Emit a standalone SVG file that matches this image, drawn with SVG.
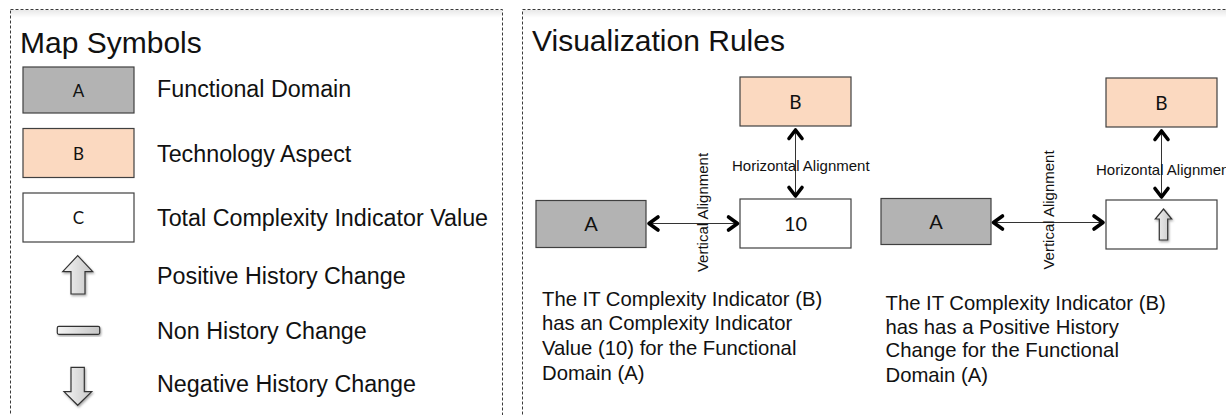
<svg xmlns="http://www.w3.org/2000/svg" width="1226" height="415" viewBox="0 0 1226 415">
  <defs>
    <style>
      .panel { fill: #ffffff; stroke: #3a3a3a; stroke-width: 1; stroke-dasharray: 3 2; }
      .title { font-family: "Liberation Sans", Arial, sans-serif; font-size: 30px; fill: #111; }
      .label { font-family: "Liberation Sans", Arial, sans-serif; font-size: 23.3px; fill: #111; }
      .para { font-family: "Liberation Sans", Arial, sans-serif; font-size: 20.3px; fill: #111; }
      .small { font-family: "Liberation Sans", Arial, sans-serif; font-size: 15px; fill: #111; }
      .boxtxt { font-family: Lato, "Open Sans", sans-serif; fill: #111; text-anchor: middle; }
      .domain { fill: #b3b3b3; stroke: #404040; stroke-width: 1.2; }
      .aspect { fill: #fbd9c0; stroke: #404040; stroke-width: 1.2; }
      .value { fill: #ffffff; stroke: #404040; stroke-width: 1.2; }
      .icon { fill: url(#iconFill); stroke: #333; stroke-width: 1.2; stroke-linejoin: miter; filter: url(#iconShadow); }
      .link { fill: none; stroke: #333; stroke-width: 1; }
      .head { fill: none; stroke: #000; stroke-width: 3.6; stroke-linecap: round; stroke-linejoin: round; }
    </style>
    <linearGradient id="iconFill" x1="0" y1="0" x2="1" y2="0">
      <stop offset="0" stop-color="#f4f4f4"/>
      <stop offset="1" stop-color="#c6c6c6"/>
    </linearGradient>
    <linearGradient id="topHaze" x1="0" y1="0" x2="0" y2="1">
      <stop offset="0" stop-color="#000" stop-opacity="0.09"/>
      <stop offset="1" stop-color="#000" stop-opacity="0"/>
    </linearGradient>
    <filter id="iconShadow" x="-30%" y="-30%" width="160%" height="160%">
      <feDropShadow dx="1" dy="1.5" stdDeviation="1" flood-color="#000" flood-opacity="0.35"/>
    </filter>
  </defs>

  <rect width="1226" height="415" fill="#ffffff"/>

  <!-- legend panel -->
  <g id="panel-map-symbols">
    <rect class="panel" x="10.5" y="9.5" width="492" height="430"/>
    <rect x="11" y="10" width="491" height="8" fill="url(#topHaze)"/>
    <text class="title" x="20" y="52.5">Map Symbols</text>
  </g>

  <g id="legend-functional-domain">
    <rect class="domain" x="23" y="67" width="111" height="46"/>
    <text class="boxtxt" x="78.5" y="97" font-size="17">A</text>
    <text class="label" x="157" y="97">Functional Domain</text>
  </g>

  <g id="legend-technology-aspect">
    <rect class="aspect" x="23" y="128.5" width="111" height="49"/>
    <text class="boxtxt" x="78.5" y="159.5" font-size="17">B</text>
    <text class="label" x="157" y="162">Technology Aspect</text>
  </g>

  <g id="legend-total-value">
    <rect class="value" x="23" y="193" width="111" height="49"/>
    <text class="boxtxt" x="78.5" y="224" font-size="17">C</text>
    <text class="label" x="157" y="226">Total Complexity Indicator Value</text>
  </g>

  <g id="legend-positive-change">
    <path class="icon" d="M77.7,255.7 L92.7,271.7 L85,271.7 L85,294 L71,294 L71,271.7 L62.7,271.7 Z"/>
    <text class="label" x="157" y="284">Positive History Change</text>
  </g>

  <g id="legend-no-change">
    <rect class="icon" x="57.3" y="326.3" width="42.4" height="8" rx="1.5"/>
    <text class="label" x="157" y="339">Non History Change</text>
  </g>

  <g id="legend-negative-change">
    <path class="icon" d="M71,367.3 L84.3,367.3 L84.3,391.7 L91.7,391.7 L77.7,405.3 L64,391.7 L71,391.7 Z"/>
    <text class="label" x="157" y="392">Negative History Change</text>
  </g>

  <!-- rules panel -->
  <g id="panel-visualization-rules">
    <rect class="panel" x="522.5" y="9.5" width="740" height="430"/>
    <rect x="523" y="10" width="720" height="8" fill="url(#topHaze)"/>
    <text class="title" x="532" y="50.5">Visualization Rules</text>
  </g>

  <!-- rule 1: indicator value -->
  <g id="rule1-aspect">
    <rect class="aspect" x="740" y="77" width="111" height="49"/>
    <text class="boxtxt" x="795.5" y="108.5" font-size="19">B</text>
  </g>
  <g id="rule1-domain">
    <rect class="domain" x="536" y="200.5" width="110" height="47"/>
    <text class="boxtxt" x="591" y="231" font-size="20">A</text>
  </g>
  <g id="rule1-value">
    <rect class="value" x="740" y="199" width="111" height="49"/>
    <text class="boxtxt" x="795.5" y="231" font-size="20">10</text>
  </g>
  <g id="rule1-text">
    <text class="para" x="542" y="306">The IT Complexity Indicator (B)</text>
    <text class="para" x="542" y="330">has an Complexity Indicator</text>
    <text class="para" x="542" y="354.5">Value (10) for the Functional</text>
    <text class="para" x="542" y="379.5">Domain (A)</text>
  </g>

  <!-- rule 2: positive history change -->
  <g id="rule2-aspect">
    <rect class="aspect" x="1106" y="78" width="111" height="49"/>
    <text class="boxtxt" x="1161.5" y="109.5" font-size="19">B</text>
  </g>
  <g id="rule2-domain">
    <rect class="domain" x="881" y="198.5" width="110" height="46"/>
    <text class="boxtxt" x="936" y="229" font-size="20">A</text>
  </g>
  <g id="rule2-value">
    <rect class="value" x="1106" y="200" width="111" height="49"/>
    <path class="icon" d="M1163.5,209 L1171.7,219 L1167.7,219 L1167.7,240 L1159.3,240 L1159.3,219 L1155.3,219 Z"/>
  </g>
  <g id="rule2-text">
    <text class="para" x="885.5" y="310">The IT Complexity Indicator (B)</text>
    <text class="para" x="885.5" y="333.5">has has a Positive History</text>
    <text class="para" x="885.5" y="357">Change for the Functional</text>
    <text class="para" x="885.5" y="381.5">Domain (A)</text>
  </g>

  <!-- alignment connectors: thin shafts with bold open chevrons at both ends -->
  <g id="connectors">
    <line class="link" x1="795.5" y1="130" x2="795.5" y2="196"/>
    <path class="head" d="M789,138.5 L795.5,130 L802,138.5"/>
    <path class="head" d="M789,187.5 L795.5,196 L802,187.5"/>

    <line class="link" x1="648.5" y1="223.5" x2="738" y2="223.5"/>
    <path class="head" d="M658,217 L649,223.5 L658,230"/>
    <path class="head" d="M728.5,217 L737.5,223.5 L728.5,230"/>

    <line class="link" x1="1161.5" y1="131" x2="1161.5" y2="197"/>
    <path class="head" d="M1155,139.5 L1161.5,131 L1168,139.5"/>
    <path class="head" d="M1155,188.5 L1161.5,197 L1168,188.5"/>

    <line class="link" x1="993" y1="222.5" x2="1104" y2="222.5"/>
    <path class="head" d="M1002.5,216 L993.5,222.5 L1002.5,229"/>
    <path class="head" d="M1094,216 L1103,222.5 L1094,229"/>

    <text class="small" x="732" y="170.5">Horizontal Alignment</text>
    <text class="small" x="1096" y="175">Horizontal Alignment</text>
    <text class="small" text-anchor="middle" transform="translate(708,212.5) rotate(-90)">Vertical Alignment</text>
    <text class="small" text-anchor="middle" transform="translate(1053.5,210) rotate(-90)">Vertical Alignment</text>
  </g>
</svg>
